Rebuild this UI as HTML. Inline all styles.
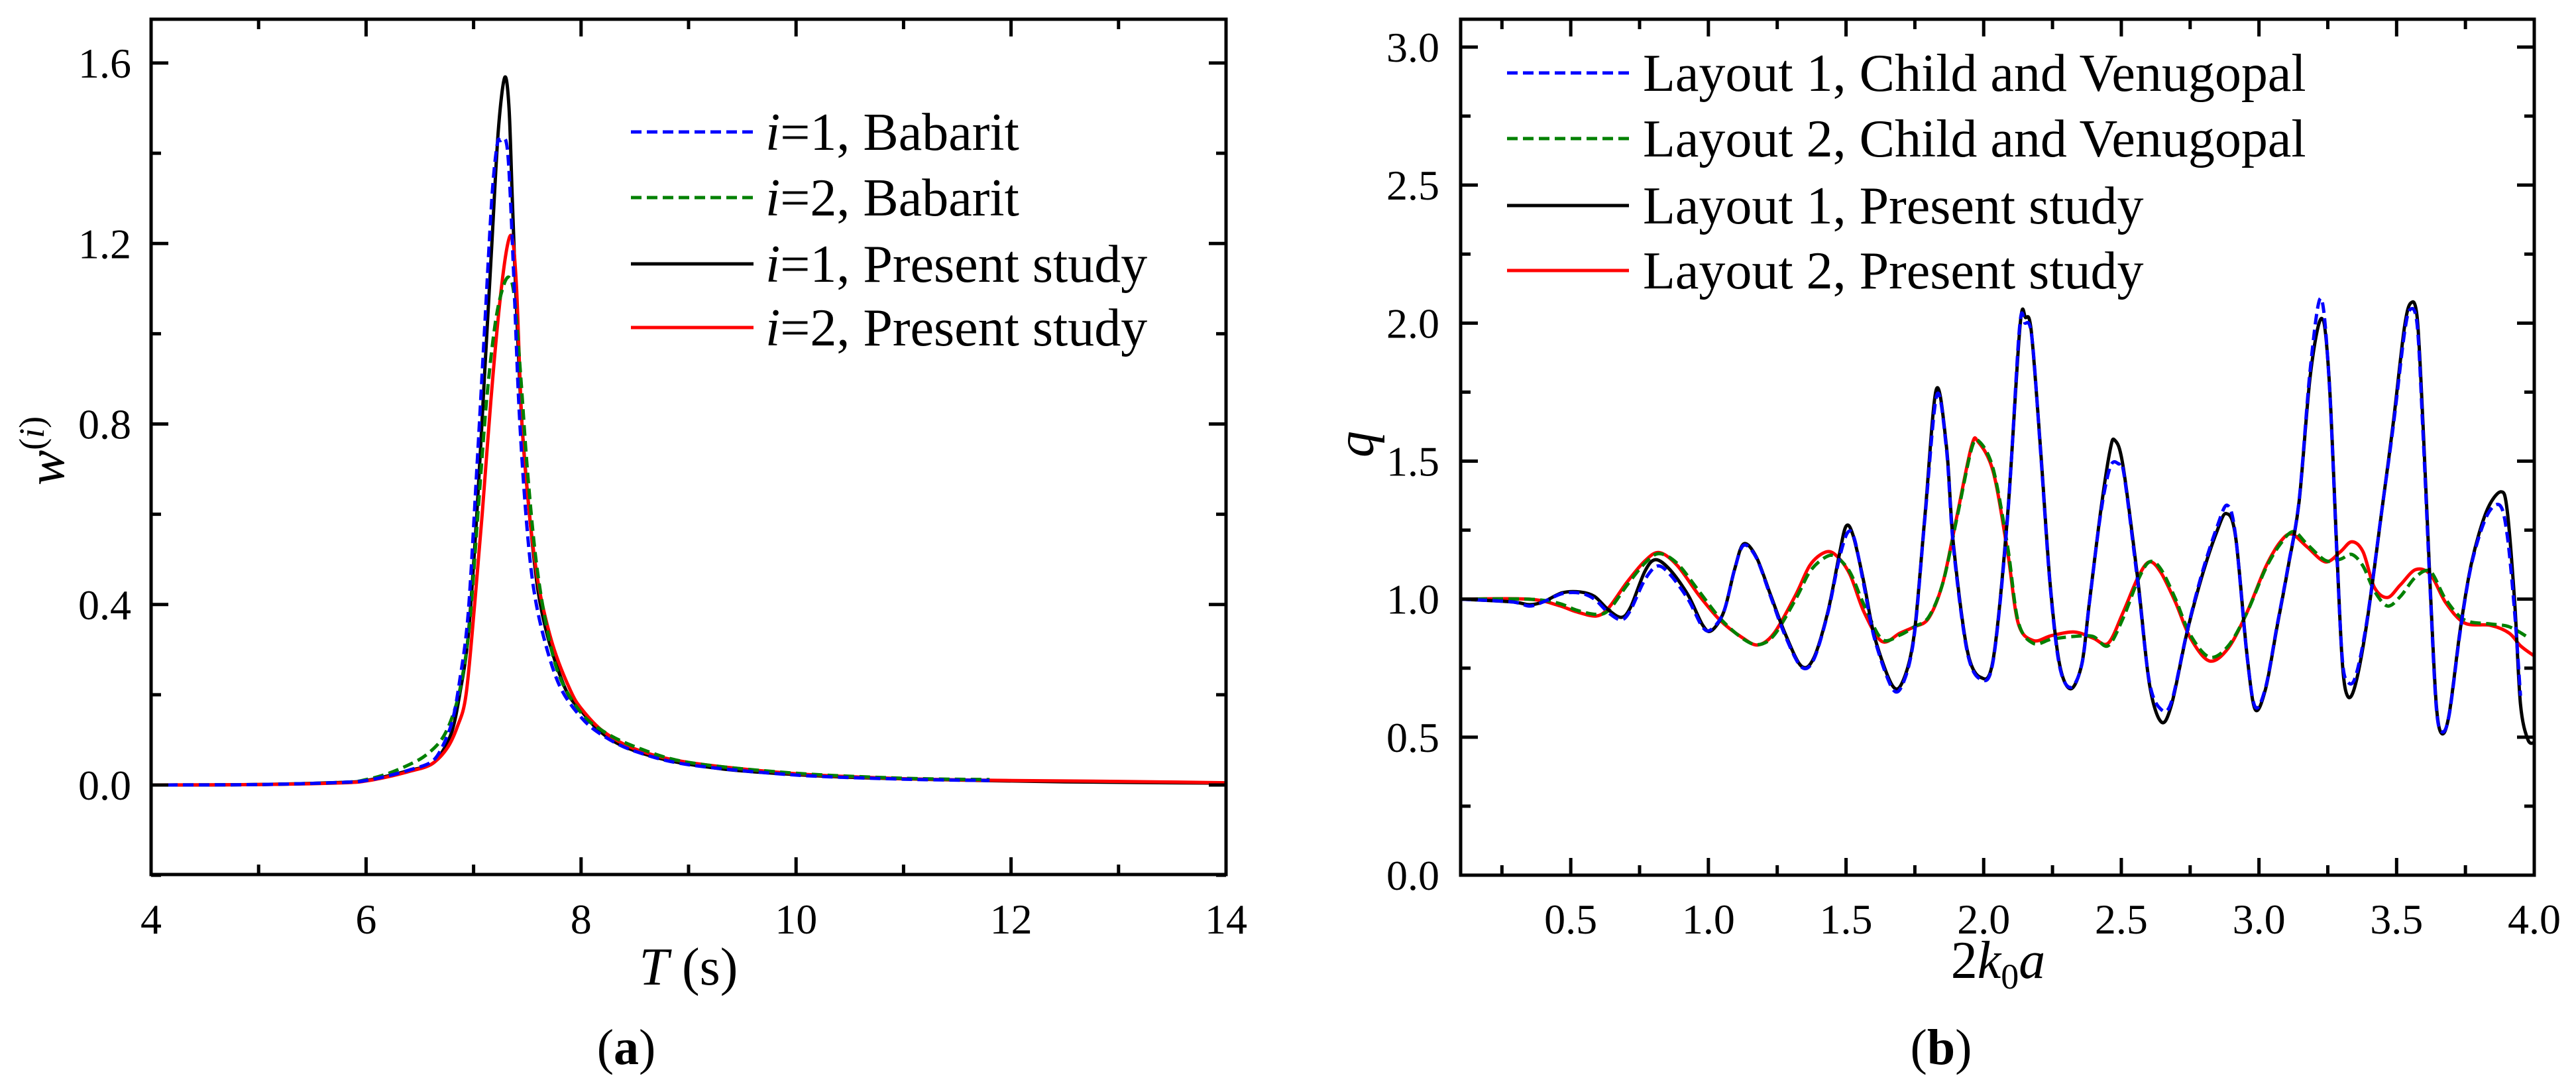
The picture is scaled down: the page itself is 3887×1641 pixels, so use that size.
<!DOCTYPE html>
<html><head><meta charset="utf-8"><style>
html,body{margin:0;padding:0;background:#fff;}
svg{display:block;font-family:"Liberation Serif",serif;}
</style></head><body>
<svg id="fig" width="3887" height="1641" viewBox="0 0 3887 1641" xmlns="http://www.w3.org/2000/svg">
<rect width="3887" height="1641" fill="#fff"/>
<g id="pa"></g>
<g id="pb"></g>
</svg>
<script>
// ---------- Panel (a) data ----------
const aXTicks = [4,6,8,10,12,14];
const aYTicks = [0.0,0.4,0.8,1.2,1.6];
const aYTickLabels = ["0.0","0.4","0.8","1.2","1.6"];
const aBlackT = [4,5,5.8,6,6.2,6.4,6.6,6.7,6.8,6.87,6.95,7.03,7.1,7.17,7.23,7.29,7.33,7.36,7.4,7.45,7.52,7.6,7.7,7.86,8.0,8.17,8.4,8.8,9.3,9.8,10.5,11.5,12.5,14];
const aBlackW = [0,0.001,0.006,0.01,0.02,0.032,0.045,0.07,0.12,0.2,0.33,0.6,0.9,1.2,1.45,1.568,1.5,1.3,1.05,0.8,0.6,0.43,0.32,0.21,0.165,0.12,0.085,0.055,0.036,0.026,0.017,0.011,0.007,0.004];
const aBlueT = [4,5,5.8,6,6.2,6.4,6.6,6.7,6.8,6.87,6.95,7.03,7.1,7.17,7.22,7.25,7.3,7.33,7.37,7.42,7.48,7.55,7.65,7.8,8.0,8.2,8.5,9,10,11,11.8];
const aBlueW = [0,0.001,0.006,0.01,0.02,0.033,0.05,0.08,0.14,0.23,0.38,0.7,1.0,1.3,1.42,1.428,1.428,1.36,1.15,0.85,0.62,0.45,0.33,0.22,0.15,0.11,0.075,0.045,0.022,0.013,0.01];
const aGreenT = [4,5,5.8,6,6.2,6.4,6.55,6.7,6.8,6.88,6.96,7.04,7.12,7.2,7.27,7.33,7.38,7.44,7.5,7.58,7.68,7.8,8.0,8.2,8.5,9,10,11,11.8];
const aGreenW = [0,0.001,0.006,0.012,0.025,0.045,0.065,0.1,0.15,0.22,0.35,0.6,0.85,1.02,1.1,1.125,1.08,0.9,0.7,0.5,0.35,0.24,0.16,0.12,0.085,0.05,0.026,0.015,0.012];
const aRedT = [4,5,5.8,6,6.2,6.4,6.6,6.75,6.85,6.93,7.01,7.08,7.16,7.24,7.31,7.36,7.4,7.45,7.52,7.58,7.64,7.75,7.9,8.0,8.2,8.5,9,10,11,12,13,14];
const aRedW = [0,0.001,0.005,0.009,0.018,0.03,0.045,0.08,0.13,0.2,0.4,0.6,0.85,1.06,1.19,1.212,1.1,0.8,0.6,0.48,0.4,0.3,0.21,0.17,0.12,0.08,0.05,0.025,0.014,0.01,0.008,0.005];

// ---------- Panel (b) data ----------
const bXTicks = [0.5,1.0,1.5,2.0,2.5,3.0,3.5,4.0];
const bXTickLabels = ["0.5","1.0","1.5","2.0","2.5","3.0","3.5","4.0"];
const bYTicks = [0.0,0.5,1.0,1.5,2.0,2.5,3.0];
const bYTickLabels = ["0.0","0.5","1.0","1.5","2.0","2.5","3.0"];
const bBlackX = [0.1,0.286,0.35,0.40,0.469,0.534,0.586,0.638,0.684,0.717,0.769,0.808,0.86,0.926,0.978,1.01,1.056,1.095,1.128,1.174,1.226,1.278,1.337,1.382,1.434,1.474,1.50,1.526,1.565,1.604,1.669,1.709,1.748,1.787,1.828,1.865,1.89,1.94,1.99,2.035,2.087,2.132,2.152,2.173,2.207,2.241,2.275,2.316,2.357,2.384,2.425,2.459,2.476,2.506,2.561,2.602,2.645,2.683,2.738,2.792,2.847,2.881,2.915,2.956,2.986,3.024,3.065,3.106,3.146,3.187,3.228,3.255,3.283,3.303,3.323,3.351,3.392,3.446,3.487,3.528,3.552,3.575,3.596,3.623,3.644,3.664,3.691,3.732,3.773,3.827,3.879,3.902,3.929,3.95,3.977,4.0];
const bBlackQ = [1.0,0.99,0.98,0.99,1.023,1.026,1.01,0.96,0.934,0.97,1.10,1.143,1.107,1.015,0.908,0.885,0.954,1.107,1.20,1.153,1.015,0.877,0.758,0.785,0.954,1.153,1.264,1.23,1.06,0.862,0.686,0.709,0.877,1.307,1.76,1.55,1.20,0.816,0.716,0.785,1.307,1.99,2.02,1.97,1.539,1.061,0.767,0.675,0.767,0.988,1.319,1.539,1.576,1.484,1.061,0.693,0.555,0.62,0.877,1.080,1.245,1.31,1.227,0.804,0.601,0.675,0.896,1.116,1.356,1.815,2.017,1.797,1.172,0.767,0.647,0.693,0.914,1.319,1.631,1.981,2.073,2.017,1.631,1.024,0.62,0.513,0.583,0.896,1.135,1.319,1.389,1.319,0.988,0.62,0.491,0.48];
const bBlueX = [0.1,0.286,0.35,0.40,0.469,0.534,0.586,0.638,0.684,0.717,0.769,0.815,0.86,0.926,0.978,1.01,1.056,1.095,1.128,1.174,1.226,1.278,1.337,1.382,1.434,1.474,1.505,1.53,1.565,1.604,1.669,1.709,1.748,1.787,1.83,1.865,1.89,1.94,1.99,2.035,2.087,2.13,2.15,2.175,2.207,2.241,2.275,2.316,2.357,2.384,2.425,2.46,2.49,2.51,2.561,2.602,2.645,2.683,2.738,2.792,2.847,2.885,2.915,2.956,2.986,3.024,3.065,3.106,3.146,3.187,3.225,3.255,3.283,3.303,3.323,3.351,3.392,3.446,3.487,3.528,3.55,3.575,3.596,3.623,3.644,3.664,3.691,3.732,3.773,3.827,3.875,3.902,3.929,3.95];
const bBlueQ = [1.0,0.99,0.975,0.99,1.02,1.022,1.0,0.95,0.925,0.96,1.07,1.12,1.09,1.0,0.9,0.89,0.955,1.107,1.195,1.15,1.01,0.87,0.755,0.78,0.95,1.14,1.24,1.22,1.05,0.855,0.675,0.7,0.87,1.3,1.74,1.54,1.19,0.81,0.71,0.78,1.3,1.98,2.0,1.95,1.53,1.055,0.76,0.68,0.765,0.985,1.31,1.48,1.49,1.45,1.05,0.7,0.6,0.63,0.88,1.09,1.26,1.34,1.23,0.8,0.61,0.68,0.9,1.12,1.36,1.84,2.09,1.79,1.16,0.78,0.7,0.72,0.92,1.32,1.62,1.96,2.05,1.99,1.6,1.01,0.61,0.52,0.58,0.89,1.13,1.3,1.34,1.23,0.95,0.65];
const bRedX = [0.1,0.35,0.456,0.521,0.593,0.638,0.704,0.769,0.821,0.886,0.965,1.043,1.121,1.18,1.239,1.317,1.369,1.422,1.461,1.513,1.565,1.63,1.696,1.748,1.8,1.852,1.904,1.956,1.98,2.035,2.087,2.125,2.18,2.247,2.329,2.397,2.452,2.506,2.561,2.602,2.643,2.697,2.751,2.82,2.888,2.956,3.024,3.078,3.119,3.174,3.242,3.296,3.337,3.378,3.419,3.467,3.514,3.569,3.623,3.678,3.746,3.841,3.909,3.95,4.0];
const bRedQ = [1.0,1.0,0.977,0.954,0.939,0.969,1.061,1.138,1.169,1.123,1.015,0.923,0.862,0.834,0.877,1.015,1.123,1.169,1.161,1.092,0.954,0.847,0.877,0.90,0.931,1.061,1.307,1.555,1.57,1.46,1.17,0.914,0.85,0.868,0.881,0.859,0.84,0.951,1.08,1.135,1.098,0.988,0.859,0.776,0.822,0.951,1.116,1.208,1.236,1.19,1.135,1.172,1.208,1.172,1.043,1.006,1.052,1.107,1.089,0.988,0.914,0.905,0.877,0.831,0.794];
const bGreenX = [0.1,0.35,0.456,0.521,0.593,0.638,0.704,0.769,0.821,0.886,0.965,1.043,1.121,1.18,1.239,1.317,1.369,1.422,1.461,1.513,1.565,1.63,1.696,1.748,1.8,1.852,1.904,1.956,1.985,2.035,2.087,2.125,2.18,2.247,2.329,2.397,2.452,2.506,2.561,2.602,2.643,2.697,2.751,2.82,2.888,2.956,3.024,3.078,3.125,3.174,3.242,3.296,3.337,3.378,3.419,3.467,3.514,3.569,3.623,3.678,3.746,3.841,3.909,3.98];
const bGreenQ = [1.0,1.0,0.985,0.96,0.945,0.96,1.05,1.13,1.165,1.13,1.03,0.93,0.86,0.835,0.87,1.0,1.1,1.15,1.155,1.1,0.98,0.855,0.87,0.9,0.935,1.06,1.3,1.545,1.57,1.47,1.19,0.92,0.84,0.855,0.865,0.865,0.831,0.93,1.07,1.135,1.11,1.0,0.87,0.79,0.83,0.95,1.11,1.2,1.245,1.2,1.14,1.145,1.162,1.12,1.03,0.975,1.01,1.08,1.1,1.0,0.925,0.91,0.9,0.86];

// ---------- drawing ----------
const NS = "http://www.w3.org/2000/svg";
function mk(tag, parent, attrs){
  const e = document.createElementNS(NS, tag);
  for (const k in attrs) e.setAttribute(k, attrs[k]);
  parent.appendChild(e);
  return e;
}
function lin(d0,d1,r0,r1){ return v => r0 + (v-d0)*(r1-r0)/(d1-d0); }
function smoothPath(xs, ys, sx, sy){
  const p = xs.map((x,i)=>[sx(x), sy(ys[i])]);
  let d = "M"+p[0][0].toFixed(1)+","+p[0][1].toFixed(1);
  for (let i=0;i<p.length-1;i++){
    const p0 = p[i-1]||p[i], p1=p[i], p2=p[i+1], p3=p[i+2]||p[i+1];
    const t = 0.16;
    const c1x=p1[0]+(p2[0]-p0[0])*t, c1y=p1[1]+(p2[1]-p0[1])*t;
    const c2x=p2[0]-(p3[0]-p1[0])*t, c2y=p2[1]-(p3[1]-p1[1])*t;
    d += "C"+c1x.toFixed(1)+","+c1y.toFixed(1)+" "+c2x.toFixed(1)+","+c2y.toFixed(1)+" "+p2[0].toFixed(1)+","+p2[1].toFixed(1);
  }
  return d;
}
function frame(g, L, R, T, B){
  const r = mk("rect", g, {x:L,y:T,width:R-L,height:B-T,fill:"none",stroke:"#000","stroke-width":5});
  
  
}
function tick(g, x1,y1,x2,y2){
  const t = mk("line", g, {x1:x1,y1:y1,x2:x2,y2:y2,stroke:"#000","stroke-width":5});
  
  
}
function txt(g, x, y, s, size, anchor, extra){
  const t = mk("text", g, Object.assign({x:x,y:y,"font-size":size,"text-anchor":anchor||"middle",fill:"#000","font-family":"Liberation Serif, serif"}, extra||{}));
  t.textContent = s;
  return t;
}

// Panel A
(function(){
  const g = document.getElementById("pa");
  const L=228,R=1850,T=29,B=1319;
  const sx = lin(4,14,L,R), sy = lin(0,1.6,1184,95);
  const clip = mk("clipPath", g, {id:"ca"}); mk("rect", clip, {x:L,y:T,width:R-L,height:B-T});
  const series = [
    [aBlackT,aBlackW,"#000",null,"line-i1-present"],
    [aRedT,aRedW,"#ff0000",null,"line-i2-present"],
    [aGreenT,aGreenW,"#008000","16,8","line-i2-babarit"],
    [aBlueT,aBlueW,"#0000ff","16,8","line-i1-babarit"]
  ];
  series.forEach(s=>{
    const p = mk("path", g, {d:smoothPath(s[0],s[1],sx,sy),fill:"none",stroke:s[2],"stroke-width":5,"clip-path":"url(#ca)"});
    if (s[3]) p.setAttribute("stroke-dasharray", s[3]);
    
    
  });
  frame(g,L,R,T,B);
  for (let v=4; v<=14; v+=1){
    const x = sx(v), len = (v%2===0)?26:15;
    tick(g,x,B,x,B-len); tick(g,x,T,x,T+len);
  }
  aXTicks.forEach(v=>{
    const t = txt(g, sx(v), 1408, String(v), 64);
    
    
  });
  for (let k=-1; k<=8; k++){
    const v = k*0.2, y = sy(v), len = (k%2===0)?26:15;
    tick(g,L,y,L+len,y); tick(g,R,y,R-len,y);
  }
  aYTicks.forEach((v,i)=>{
    const t = txt(g, 198, sy(v)+22, aYTickLabels[i], 64, "end");
    
    
  });
  const xt = mk("text", g, {x:1039,y:1485,"font-size":80,"text-anchor":"middle","font-family":"Liberation Serif, serif"});
  xt.innerHTML = '<tspan font-style="italic">T</tspan> (s)';
  
  
  const yt = mk("text", g, {x:0,y:0,"font-size":80,"text-anchor":"middle","font-family":"Liberation Serif, serif",transform:"translate(96,680) rotate(-90)"});
  yt.innerHTML = '<tspan font-style="italic">w</tspan><tspan font-size="54" dy="-30">(<tspan font-style="italic">i</tspan>)</tspan>';
  
  
  const cap = mk("text", g, {x:945,y:1605,"font-size":76,"text-anchor":"middle","font-family":"Liberation Serif, serif"});
  cap.innerHTML = '(<tspan font-weight="bold">a</tspan>)';
  
  
  const leg = [["#0000ff","16,8","1, Babarit"],["#008000","16,8","2, Babarit"],["#000",null,"1, Present study"],["#ff0000",null,"2, Present study"]];
  const rows = [199,298,398,494];
  leg.forEach((l,i)=>{
    const lg = mk("g", g, {});
    
    
    const ln = mk("line", lg, {x1:952,y1:rows[i],x2:1137,y2:rows[i],stroke:l[0],"stroke-width":5});
    if (l[1]) ln.setAttribute("stroke-dasharray", l[1]);
    const t = mk("text", lg, {x:1155,y:rows[i]+27,"font-size":80,"font-family":"Liberation Serif, serif"});
    t.innerHTML = '<tspan font-style="italic">i</tspan>=' + l[2];
  });
})();

// Panel B
(function(){
  const g = document.getElementById("pb");
  const L=2204,R=3824,T=29,B=1320;
  const sx = lin(0.1,4.0,L,R), sy = lin(0,3.0,1320,71);
  const clip = mk("clipPath", g, {id:"cb"}); mk("rect", clip, {x:L,y:T,width:R-L,height:B-T});
  const series = [
    [bRedX,bRedQ,"#ff0000",null,"line-layout2-present"],
    [bGreenX,bGreenQ,"#008000","16,8","line-layout2-child-venugopal"],
    [bBlackX,bBlackQ,"#000",null,"line-layout1-present"],
    [bBlueX,bBlueQ,"#0000ff","16,8","line-layout1-child-venugopal"]
  ];
  series.forEach(s=>{
    const p = mk("path", g, {d:smoothPath(s[0],s[1],sx,sy),fill:"none",stroke:s[2],"stroke-width":5,"clip-path":"url(#cb)"});
    if (s[3]) p.setAttribute("stroke-dasharray", s[3]);
    
    
  });
  frame(g,L,R,T,B);
  for (let k=1; k<=16; k++){
    const v = k*0.25, x = sx(v), len = (k%2===0)?26:15;
    tick(g,x,B,x,B-len); tick(g,x,T,x,T+len);
  }
  bXTicks.forEach((v,i)=>{
    const t = txt(g, sx(v), 1408, bXTickLabels[i], 64);
    
    
  });
  for (let k=0; k<=12; k++){
    const v = k*0.25, y = sy(v), len = (k%2===0)?26:15;
    tick(g,L,y,L+len,y); tick(g,R,y,R-len,y);
  }
  bYTicks.forEach((v,i)=>{
    const t = txt(g, 2172, sy(v)+22, bYTickLabels[i], 64, "end");
    
    
  });
  const xt = mk("text", g, {x:3015,y:1475,"font-size":80,"text-anchor":"middle","font-family":"Liberation Serif, serif"});
  xt.innerHTML = '2<tspan font-style="italic">k</tspan><tspan font-size="54" dy="16">0</tspan><tspan font-style="italic" dy="-16">a</tspan>';
  
  
  const yt = mk("text", g, {x:0,y:0,"font-size":80,"text-anchor":"middle","font-style":"italic","font-family":"Liberation Serif, serif",transform:"translate(2072,670) rotate(-90)"});
  yt.textContent = "q";
  
  
  const cap = mk("text", g, {x:2929,y:1605,"font-size":76,"text-anchor":"middle","font-family":"Liberation Serif, serif"});
  cap.innerHTML = '(<tspan font-weight="bold">b</tspan>)';
  
  
  const leg = [["#0000ff","16,8","Layout 1, Child and Venugopal"],["#008000","16,8","Layout 2, Child and Venugopal"],["#000",null,"Layout 1, Present study"],["#ff0000",null,"Layout 2, Present study"]];
  const rows = [110,209,310,408];
  leg.forEach((l,i)=>{
    const lg = mk("g", g, {});
    
    
    const ln = mk("line", lg, {x1:2274,y1:rows[i],x2:2458,y2:rows[i],stroke:l[0],"stroke-width":5});
    if (l[1]) ln.setAttribute("stroke-dasharray", l[1]);
    const t = mk("text", lg, {x:2479,y:rows[i]+27,"font-size":80,"font-family":"Liberation Serif, serif"});
    t.textContent = l[2];
  });
})();
</script>
</body></html>
